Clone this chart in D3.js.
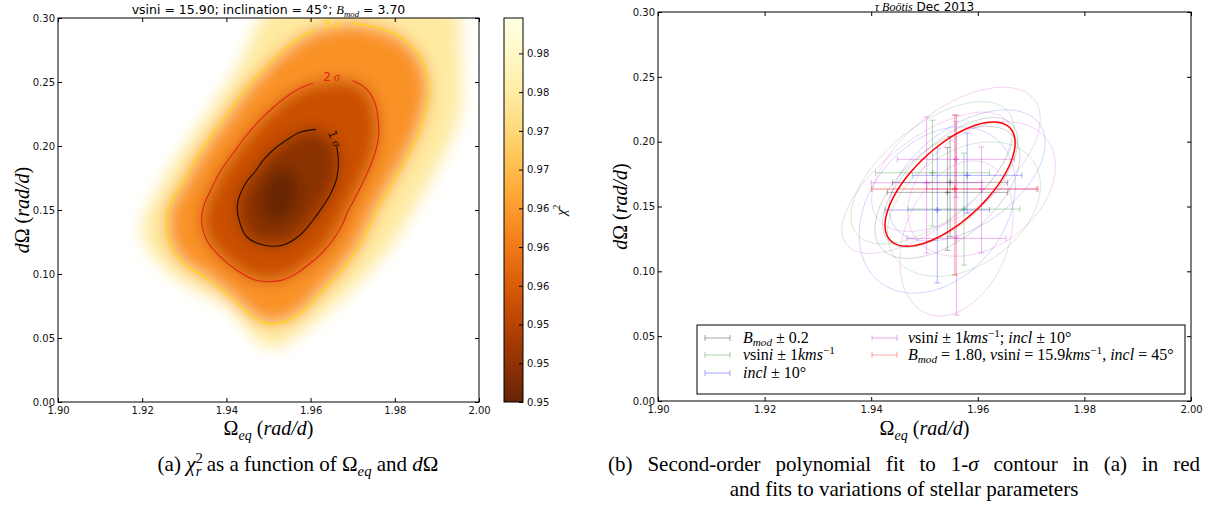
<!DOCTYPE html>
<html><head><meta charset="utf-8">
<script src="https://cdn.jsdelivr.net/npm/d3@7"></script>
<style>body{margin:0;background:#fff}svg{display:block}</style>
</head><body><svg id="c" width="1213" height="507"></svg>
<script>
// ---------------- data ----------------
const xTicks = [1.90, 1.92, 1.94, 1.96, 1.98, 2.00];
const yTicks = [0.00, 0.05, 0.10, 0.15, 0.20, 0.25, 0.30];
const cbarDomain = [0.9472, 0.9819];
const cbarTicks = [0.9472, 0.9507, 0.9542, 0.9577, 0.9612, 0.9647, 0.9682, 0.9717, 0.9752, 0.9787];

// chi2 contour traces (Omega_eq, dOmega)
const fadeEdge = [[1.9508,0.3063],[1.9943,0.3063],[1.9955,0.2766],[1.9955,0.2297],[1.9931,0.2031],[1.9891,0.1773],[1.9843,0.1500],[1.9800,0.1266],[1.9741,0.1031],[1.9670,0.0797],[1.9606,0.0617],[1.9558,0.0500],[1.9527,0.0430],[1.9480,0.0461],[1.9439,0.0617],[1.9392,0.0773],[1.9314,0.0898],[1.9242,0.1086],[1.9207,0.1242],[1.9202,0.1422],[1.9219,0.1539],[1.9273,0.1852],[1.9354,0.2242],[1.9432,0.2633]];
const sigma3 = [[1.9698,0.2959],[1.9765,0.2920],[1.9812,0.2854],[1.9852,0.2737],[1.9872,0.2607],[1.9880,0.2477],[1.9876,0.2320],[1.9860,0.2138],[1.9836,0.1955],[1.9805,0.1773],[1.9773,0.1591],[1.9757,0.1500],[1.9717,0.1227],[1.9670,0.1016],[1.9622,0.0849],[1.9575,0.0693],[1.9531,0.0620],[1.9488,0.0620],[1.9448,0.0705],[1.9409,0.0823],[1.9353,0.0966],[1.9298,0.1084],[1.9266,0.1240],[1.9258,0.1422],[1.9266,0.1539],[1.9298,0.1721],[1.9329,0.1904],[1.9369,0.2099],[1.9409,0.2281],[1.9448,0.2451],[1.9488,0.2594],[1.9527,0.2724],[1.9567,0.2828],[1.9610,0.2906]];
const sigma2 = [[1.9700,0.2510],[1.9733,0.2445],[1.9753,0.2334],[1.9761,0.2190],[1.9761,0.2060],[1.9749,0.1904],[1.9729,0.1748],[1.9701,0.1565],[1.9690,0.1500],[1.9675,0.1383],[1.9653,0.1266],[1.9622,0.1148],[1.9599,0.1084],[1.9567,0.1005],[1.9527,0.0948],[1.9468,0.0953],[1.9424,0.1031],[1.9385,0.1135],[1.9353,0.1266],[1.9341,0.1422],[1.9347,0.1539],[1.9361,0.1643],[1.9385,0.1799],[1.9416,0.1943],[1.9448,0.2086],[1.9488,0.2229],[1.9527,0.2346],[1.9567,0.2438],[1.9606,0.2490]];
const sigma1 = [[1.9662,0.1995],[1.9666,0.1877],[1.9662,0.1748],[1.9646,0.1617],[1.9626,0.1513],[1.9606,0.1422],[1.9575,0.1305],[1.9535,0.1227],[1.9488,0.1227],[1.9448,0.1291],[1.9428,0.1448],[1.9426,0.1539],[1.9432,0.1617],[1.9448,0.1721],[1.9468,0.1799],[1.9488,0.1891],[1.9511,0.1969],[1.9543,0.2047],[1.9575,0.2107],[1.9613,0.2130]];
const core = [[1.9485,0.1500],[1.9492,0.1695],[1.9515,0.1797],[1.9551,0.1813],[1.9568,0.1719],[1.9563,0.1539],[1.9539,0.1422],[1.9504,0.1406]];
const bandValues = [0.9748, 0.9638, 0.9560, 0.9503, 0.9472];   // fill level inside fadeEdge, 3σ, 2σ, 1σ, core
const contourLabelText = ["1", "2", "3"];
const contourLabelX = [1.9648, 1.9650, 1.9650];
const contourLabelY = [0.2078, 0.2537, 0.2945];

// polynomial (ellipse) fits, right panel
const fitGroup  = ["bmod","bmod","vsini","vsini","incl","incl","both","both","both","both","best"];
const fitCx     = [1.9548,1.9543,1.9515,1.9574,1.9580,1.9524,1.9559,1.9504,1.9607,1.9560,1.9557];
const fitCy     = [0.1686,0.1609,0.1760,0.1480,0.1740,0.1473,0.1864,0.1683,0.1635,0.1254,0.1635];
const fitXerr   = [0.0108,0.0113,0.0107,0.0105,0.0103,0.0098,0.0110,0.0104,0.0103,0.0093,0.0156];
const fitYerrLo = [0.0419,0.0447,0.0411,0.0432,0.0291,0.0563,0.0293,0.0542,0.0493,0.0591,0.0663];
const fitYerrHi = [0.0352,0.0347,0.0406,0.0432,0.0326,0.0478,0.0293,0.0507,0.0324,0.0951,0.0570];
const ellCx     = [1.9548,1.9543,1.9515,1.9574,1.9580,1.9524,1.9559,1.9504,1.9607,1.9560,1.9548];
const ellCy     = [0.1686,0.1609,0.1760,0.1480,0.1740,0.1473,0.1864,0.1683,0.1635,0.1254,0.1673];
const ellU = [[0.01163,0.04472],[0.01238,0.04318],[0.01407,0.04780],[0.01276,0.03855],[0.01351,0.04009],[0.01126,0.05397],[0.01463,0.04626],[0.01501,0.04780],[0.01220,0.03855],[0.00563,0.05783],[0.01126,0.04318]];
const ellV = [[0.00507,-0.02236],[0.00563,-0.02699],[0.00600,-0.02699],[0.00657,-0.03470],[0.00563,-0.03084],[0.00938,-0.03470],[0.00600,-0.03084],[0.00525,-0.02621],[0.00657,-0.03470],[0.00901,-0.01542],[0.00471,-0.02074]];
const legendGroups = ["bmod","vsini","incl","both","best"];

// ---------------- helpers ----------------
const SERIF = "'Liberation Serif','DejaVu Serif',serif";
const SANS = "'DejaVu Sans',sans-serif";
const svg = d3.select('#c');
svg.append('rect').attr('width',1213).attr('height',507).attr('fill','#fff');
const defs = svg.append('defs');

function rich(parent, parts, o) {
  const size = o.size, subShift = o.subShift || 0.25;
  const t = parent.append('text').attr('x', o.x || 0).attr('y', o.y || 0)
    .attr('font-size', size).attr('font-family', o.family || SERIF)
    .attr('text-anchor', o.anchor || 'start').attr('fill', o.fill || '#000');
  if (o.transform) t.attr('transform', o.transform);
  let shift = 0;
  parts.forEach(p => {
    const ts = t.append('tspan').text(p.t);
    const target = p.sub ? size * subShift : (p.sup ? -size * 0.4 : 0);
    if (target !== shift) { ts.attr('dy', target - shift); shift = target; }
    if (p.sub || p.sup) ts.attr('font-size', size * 0.7);
    if (p.i) ts.attr('font-style', 'italic');
    if (p.f) ts.attr('font-family', p.f);
    if (p.dx) ts.attr('dx', p.dx);
  });
  return t;
}

function axes(g, x, y, r) {
  const fmt = d3.format('.2f');
  const style = s => { s.select('.domain').remove(); s.selectAll('line').attr('stroke','#000');
    s.selectAll('text').attr('font-size',10).attr('font-family',SANS).attr('fill','#111'); };
  g.append('g').attr('transform',`translate(0,${r.y1})`)
    .call(d3.axisBottom(x).tickValues(xTicks).tickFormat(fmt).tickSizeInner(-4).tickSizeOuter(0).tickPadding(5)).call(style);
  g.append('g').attr('transform',`translate(0,${r.y0})`)
    .call(d3.axisTop(x).tickValues(xTicks).tickFormat('').tickSizeInner(-4).tickSizeOuter(0)).call(style);
  g.append('g').attr('transform',`translate(${r.x0},0)`)
    .call(d3.axisLeft(y).tickValues(yTicks).tickFormat(fmt).tickSizeInner(-4).tickSizeOuter(0).tickPadding(3)).call(style);
  g.append('g').attr('transform',`translate(${r.x1},0)`)
    .call(d3.axisRight(y).tickValues(yTicks).tickFormat('').tickSizeInner(-4).tickSizeOuter(0)).call(style);
  g.append('rect').attr('x',r.x0).attr('y',r.y0).attr('width',r.x1-r.x0).attr('height',r.y1-r.y0)
    .attr('fill','none').attr('stroke','#000').attr('stroke-width',1);
}

const omegaLabel = [{t:'Ω'},{t:'eq',i:1,sub:1},{t:' ('},{t:'rad/d',i:1},{t:')'}];
const dOmegaLabel = [{t:'d',i:1},{t:'Ω'},{t:' ('},{t:'rad/d',i:1},{t:')'}];

// ---------------- left panel ----------------
const RL = {x0:58, x1:479, y0:18, y1:402};
const xL = d3.scaleLinear().domain([1.90, 2.00]).range([RL.x0, RL.x1]);
const yL = d3.scaleLinear().domain([0, 0.30]).range([RL.y1, RL.y0]);
const cnorm = d3.scaleLinear().domain(cbarDomain).range([1, 0]).clamp(true);
const color = v => d3.interpolateYlOrBr(cnorm(v));

defs.append('clipPath').attr('id','clipL').append('rect')
  .attr('x',RL.x0).attr('y',RL.y0).attr('width',RL.x1-RL.x0).attr('height',RL.y1-RL.y0);
const blur = defs.append('filter').attr('id','blur').attr('x','-30%').attr('y','-30%').attr('width','160%').attr('height','160%');
blur.append('feGaussianBlur').attr('stdDeviation',8);

const gL = svg.append('g');
const heat = gL.append('g').attr('clip-path','url(#clipL)').append('g').attr('filter','url(#blur)');
const closedLine = d3.line().x(d=>xL(d[0])).y(d=>yL(d[1])).curve(d3.curveCatmullRomClosed);
[fadeEdge, sigma3, sigma2, sigma1, core].forEach((poly, i) => {
  heat.append('path').attr('d', closedLine(poly)).attr('fill', color(bandValues[i]));
});

const openLine = d3.line().x(d=>xL(d[0])).y(d=>yL(d[1])).curve(d3.curveCatmullRom);
const contourColors = ['#1c0c04', '#e0231b', '#ffd500'];
[sigma1, sigma2, sigma3].forEach((c, i) => {
  gL.append('path').attr('d', openLine(c)).attr('fill','none').attr('stroke',contourColors[i]).attr('stroke-width',1.1);
});
contourLabelText.forEach((n, i) => {
  const px = xL(contourLabelX[i]), py = yL(contourLabelY[i]);
  const rot = i === 0 ? 67 : 0;
  rich(gL, [{t:n, f:SANS},{t:' σ', i:1}], {x:0, y:0, size:12, anchor:'middle', fill:contourColors[i],
    transform:`translate(${px},${py + 4}) rotate(${rot})`});
});

axes(gL, xL, yL, RL);

rich(gL, [{t:'vsini = 15.90; inclination = 45°; ', f:SANS},{t:'B', i:1},{t:'mod', i:1, sub:1},{t:' = 3.70', f:SANS}],
  {x:(RL.x0+RL.x1)/2, y:14, size:12.5, anchor:'middle', family:SERIF});
rich(gL, omegaLabel, {x:(RL.x0+RL.x1)/2, y:435, size:20, anchor:'middle'});
rich(gL, dOmegaLabel, {x:0, y:0, size:20, anchor:'middle', transform:`translate(29,${(RL.y0+RL.y1)/2}) rotate(-90)`});

// colorbar
const CB = {x:504, y0:18, y1:402, w:19};
const grad = defs.append('linearGradient').attr('id','cbgrad').attr('x1',0).attr('y1',1).attr('x2',0).attr('y2',0);
d3.range(0, 1.0001, 0.02).forEach(t => {
  grad.append('stop').attr('offset', t).attr('stop-color', color(cbarDomain[0] + t*(cbarDomain[1]-cbarDomain[0])));
});
gL.append('rect').attr('x',CB.x).attr('y',CB.y0).attr('width',CB.w).attr('height',CB.y1-CB.y0)
  .attr('fill','url(#cbgrad)').attr('stroke','#000').attr('stroke-width',1);
const cbY = d3.scaleLinear().domain(cbarDomain).range([CB.y1, CB.y0]);
gL.append('g').attr('transform',`translate(${CB.x+CB.w},0)`)
  .call(d3.axisRight(cbY).tickValues(cbarTicks).tickFormat(d3.format('.2f')).tickSizeInner(-4).tickSizeOuter(0).tickPadding(4))
  .call(s => { s.select('.domain').remove(); s.selectAll('line').attr('stroke','#000');
    s.selectAll('text').attr('font-size',10).attr('font-family',SANS).attr('fill','#111'); });
rich(gL, [{t:'χ', i:1},{t:'2', sup:1}], {x:0, y:0, size:14, anchor:'middle', transform:`translate(566,210) rotate(-90)`});

// ---------------- right panel ----------------
const RR = {x0:658, x1:1191, y0:12, y1:401};
const xR = d3.scaleLinear().domain([1.90, 2.00]).range([RR.x0, RR.x1]);
const yR = d3.scaleLinear().domain([0, 0.30]).range([RR.y1, RR.y0]);
const gR = svg.append('g');
const groupRGB = {bmod:'0,0,0', vsini:'0,128,0', incl:'0,0,255', both:'191,0,191', best:'255,0,0'};
const ellLine = d3.line().x(d=>xR(d[0])).y(d=>yR(d[1])).curve(d3.curveLinearClosed);
function ellipsePts(i) {
  return d3.range(0, 2*Math.PI, Math.PI/60).map(t => [
    ellCx[i] + ellU[i][0]*Math.cos(t) + ellV[i][0]*Math.sin(t),
    ellCy[i] + ellU[i][1]*Math.cos(t) + ellV[i][1]*Math.sin(t)]);
}
function errbar(g, cx, cy, xe, ylo, yhi, col, w) {
  const X = xR(cx), Y = yR(cy), xa = xR(cx - xe), xb = xR(cx + xe), ya = yR(cy - ylo), yb = yR(cy + yhi), c = 3;
  const segs = [[xa,Y,xb,Y],[xa,Y-c,xa,Y+c],[xb,Y-c,xb,Y+c],[X,ya,X,yb],[X-c,ya,X+c,ya],[X-c,yb,X+c,yb]];
  segs.forEach(s => g.append('line').attr('x1',s[0]).attr('y1',s[1]).attr('x2',s[2]).attr('y2',s[3])
    .attr('stroke',col).attr('stroke-width',w));
  g.append('path').attr('d',`M${X-3},${Y}H${X+3}M${X},${Y-3}V${Y+3}`).attr('stroke',col).attr('stroke-width',w+0.4);
}
fitGroup.forEach((gname, i) => {
  if (gname === 'best') return;
  gR.append('path').attr('d', ellLine(ellipsePts(i))).attr('fill','none')
    .attr('stroke',`rgba(${groupRGB[gname]},0.17)`).attr('stroke-width',1);
});
fitGroup.forEach((gname, i) => {
  errbar(gR, fitCx[i], fitCy[i], fitXerr[i], fitYerrLo[i], fitYerrHi[i], `rgba(${groupRGB[gname]},${gname==='best'?0.45:0.3})`, 1);
});
fitGroup.forEach((gname, i) => {
  if (gname !== 'best') return;
  gR.append('path').attr('d', ellLine(ellipsePts(i))).attr('fill','none').attr('stroke','#f00').attr('stroke-width',1.5);
});

axes(gR, xR, yR, RR);

rich(gR, [{t:'τ Boötis', i:1},{t:' Dec 2013', f:SANS}], {x:(RR.x0+RR.x1)/2, y:11, size:12, anchor:'middle'});
rich(gR, omegaLabel, {x:(RR.x0+RR.x1)/2, y:435, size:20, anchor:'middle'});
rich(gR, dOmegaLabel, {x:0, y:0, size:20, anchor:'middle', transform:`translate(627,${(RR.y0+RR.y1)/2}) rotate(-90)`});

// legend
const LG = {x:697, y:325, w:488, h:69};
gR.append('rect').attr('x',LG.x).attr('y',LG.y).attr('width',LG.w).attr('height',LG.h)
  .attr('fill','#fff').attr('stroke','#000').attr('stroke-width',1);
const vsini = [{t:'v',i:1},{t:'sin'},{t:'i',i:1}];
const legendText = {
  bmod: [{t:'B',i:1},{t:'mod',i:1,sub:1},{t:' ± 0.2'}],
  vsini: [...vsini,{t:' ± 1'},{t:'kms',i:1},{t:'−1',sup:1}],
  incl: [{t:'incl',i:1},{t:' ± 10°'}],
  both: [...vsini,{t:' ± 1'},{t:'kms',i:1},{t:'−1',sup:1},{t:'; '},{t:'incl',i:1},{t:' ± 10°'}],
  best: [{t:'B',i:1},{t:'mod',i:1,sub:1},{t:' = 1.80, '},...vsini,{t:' = 15.9'},{t:'kms',i:1},{t:'−1',sup:1},{t:', '},{t:'incl',i:1},{t:' = 45°'}]
};
const legCol = [705, 872], legTextX = [743, 908], legRow = [338, 355, 373];
legendGroups.forEach((gname, k) => {
  const col = k < 3 ? 0 : 1, row = k < 3 ? k : k - 3;
  const y = legRow[row], x0 = legCol[col], x1 = x0 + 25, c = `rgba(${groupRGB[gname]},0.35)`;
  gR.append('path').attr('d',`M${x0},${y}H${x1}M${x0},${y-3}V${y+3}M${x1},${y-3}V${y+3}`).attr('stroke',c).attr('stroke-width',1);
  rich(gR, legendText[gname], {x:legTextX[col], y:y+5, size:16, subShift:0.18});
});

// captions
rich(svg, [{t:'(a) '},{t:'χ',i:1},{t:'2',sup:1},{t:'r',i:1,sub:1,dx:-7},{t:' as a function of Ω'},{t:'eq',i:1,sub:1},{t:' and '},{t:'d',i:1},{t:'Ω'}],
  {x:298, y:471, size:21, anchor:'middle'});
const cap1 = rich(svg, [{t:'(b) Second-order polynomial fit to 1-'},{t:'σ',i:1},{t:' contour in (a) in red'}], {x:608, y:471, size:21, anchor:'start'});
const natural = cap1.node().getComputedTextLength();
cap1.attr('word-spacing', Math.max(0, (592 - natural) / 10));
rich(svg, [{t:'and fits to variations of stellar parameters'}], {x:904, y:496, size:21, anchor:'middle'});
</script></body></html>
